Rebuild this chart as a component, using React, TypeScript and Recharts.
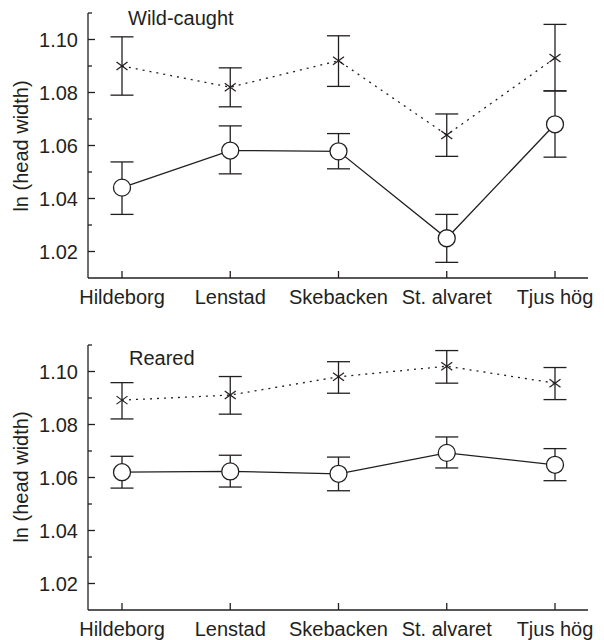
import React from 'react';
import { LineChart, Line, XAxis, YAxis, ErrorBar } from 'recharts';

const sites = ['Hildeborg', 'Lenstad', 'Skebacken', 'St. alvaret', 'Tjus hög'];
const yTicks = [1.02, 1.03, 1.04, 1.05, 1.06, 1.07, 1.08, 1.09, 1.1, 1.11];

// Wild-caught panel
const wildCross = [1.09, 1.082, 1.092, 1.064, 1.093];
const wildCrossLow = [1.079, 1.0746, 1.0823, 1.0559, 1.0806];
const wildCrossHigh = [1.101, 1.0893, 1.1014, 1.0719, 1.1057];
const wildCircle = [1.0441, 1.0581, 1.0578, 1.025, 1.068];
const wildCircleLow = [1.034, 1.0493, 1.0512, 1.0159, 1.0556];
const wildCircleHigh = [1.0538, 1.0674, 1.0645, 1.034, 1.0806];

// Reared panel
const rearedCross = [1.0892, 1.0911, 1.098, 1.102, 1.0956];
const rearedCrossLow = [1.0821, 1.0839, 1.0918, 1.0956, 1.0894];
const rearedCrossHigh = [1.0958, 1.0981, 1.1037, 1.1079, 1.1015];
const rearedCircle = [1.062, 1.0623, 1.0614, 1.0693, 1.0648];
const rearedCircleLow = [1.056, 1.0564, 1.055, 1.0636, 1.0588];
const rearedCircleHigh = [1.068, 1.0684, 1.0677, 1.0753, 1.0709];

const INK = '#231f20';
const FONT = '"Liberation Sans", Arial, Helvetica, sans-serif';

function buildRows(
  cross: number[], crossLow: number[], crossHigh: number[],
  circle: number[], circleLow: number[], circleHigh: number[]
) {
  return sites.map((site, i) => ({
    site,
    cross: cross[i],
    crossErr: [cross[i] - crossLow[i], crossHigh[i] - cross[i]],
    circle: circle[i],
    circleErr: [circle[i] - circleLow[i], circleHigh[i] - circle[i]]
  }));
}

const YTick = (props: any) => {
  const { x, y, payload } = props;
  const major = Math.round(payload.value * 100) % 2 === 0;
  return (
    <g>
      <line x1={x} y1={y} x2={x + (major ? 7 : 4)} y2={y} stroke={INK} strokeWidth={1.3} />
      {major && (
        <text x={x - 10} y={y} dy="0.35em" textAnchor="end" fill={INK} fontSize={20} fontFamily={FONT}>
          {payload.value.toFixed(2)}
        </text>
      )}
    </g>
  );
};

const XTick = (props: any) => {
  const { x, y, payload } = props;
  return (
    <g>
      <line x1={x} y1={y} x2={x} y2={y - 7} stroke={INK} strokeWidth={1.3} />
      <text x={x} y={y + 26} textAnchor="middle" fill={INK} fontSize={20} fontFamily={FONT}>
        {payload.value}
      </text>
    </g>
  );
};

const CrossDot = (props: any) => {
  const { cx, cy } = props;
  if (cx == null || cy == null) return <g />;
  return (
    <g>
      <line x1={cx - 5.5} y1={cy - 4} x2={cx + 5.5} y2={cy + 4} stroke={INK} strokeWidth={1.2} />
      <line x1={cx - 5.5} y1={cy + 4} x2={cx + 5.5} y2={cy - 4} stroke={INK} strokeWidth={1.2} />
    </g>
  );
};

function Panel({ rows, height, xHeight }: { rows: any[]; height: number; xHeight: number }) {
  return (
    <LineChart width={604} height={height} data={rows} margin={{ top: 13, right: 16, bottom: 0, left: 0 }}>
      <XAxis
        dataKey="site"
        scale="point"
        padding={{ left: 34, right: 33 }}
        height={xHeight}
        axisLine={{ stroke: INK, strokeWidth: 1.3 }}
        tickLine={false}
        tickSize={0}
        tickMargin={0}
        tick={<XTick />}
        interval={0}
      />
      <YAxis
        type="number"
        domain={[1.01, 1.11]}
        ticks={yTicks}
        allowDataOverflow
        width={88}
        axisLine={{ stroke: INK, strokeWidth: 1.3 }}
        tickLine={false}
        tickSize={0}
        tickMargin={0}
        tick={<YTick />}
        interval={0}
      />
      <Line
        type="linear"
        dataKey="cross"
        stroke={INK}
        strokeWidth={1.3}
        strokeDasharray="2 5"
        dot={<CrossDot />}
        isAnimationActive={false}
      >
        <ErrorBar dataKey="crossErr" width={11.5} stroke={INK} strokeWidth={1.3} direction="y" />
      </Line>
      <Line
        type="linear"
        dataKey="circle"
        stroke={INK}
        strokeWidth={1.3}
        dot={{ r: 8.5, fill: '#fff', stroke: INK, strokeWidth: 1.3 }}
        isAnimationActive={false}
      >
        <ErrorBar dataKey="circleErr" width={11.5} stroke={INK} strokeWidth={1.3} direction="y" />
      </Line>
    </LineChart>
  );
}

const textStyle: React.CSSProperties = {
  position: 'absolute',
  fontFamily: FONT,
  fontSize: 20,
  lineHeight: '20px',
  color: INK,
  whiteSpace: 'nowrap'
};

export default function App() {
  const wildRows = buildRows(wildCross, wildCrossLow, wildCrossHigh, wildCircle, wildCircleLow, wildCircleHigh);
  const rearedRows = buildRows(rearedCross, rearedCrossLow, rearedCrossHigh, rearedCircle, rearedCircleLow, rearedCircleHigh);

  return (
    <div style={{ position: 'absolute', left: 0, top: 0, width: 604, height: 640, overflow: 'hidden', background: '#fff' }}>
      <div style={{ position: 'absolute', left: 0, top: 0 }}>
        <Panel rows={wildRows} height={320} xHeight={42} />
      </div>
      <div style={{ position: 'absolute', left: 0, top: 332 }}>
        <Panel rows={rearedRows} height={308} xHeight={30} />
      </div>
      <div style={{ ...textStyle, left: 128, top: 8 }}>Wild-caught</div>
      <div style={{ ...textStyle, left: 129, top: 348 }}>Reared</div>
      <div style={{ ...textStyle, left: 21, top: 145.5, transform: 'translate(-50%, -50%) rotate(-90deg)' }}>
        ln (head width)
      </div>
      <div style={{ ...textStyle, left: 21, top: 477, transform: 'translate(-50%, -50%) rotate(-90deg)' }}>
        ln (head width)
      </div>
    </div>
  );
}
